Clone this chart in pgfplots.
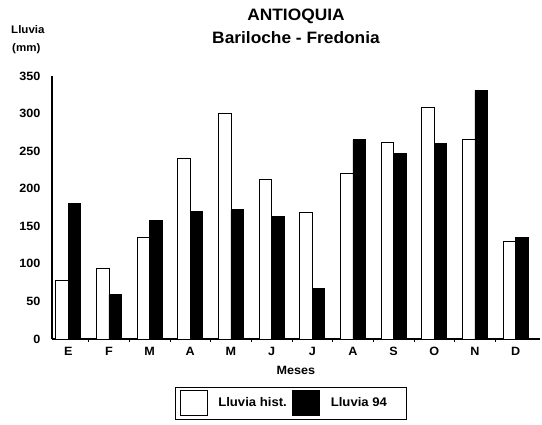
\documentclass[border=0pt]{standalone}
\usepackage{fontspec}
\setmainfont{Liberation Sans}[FakeStretch=1.05]
\usepackage{pgfplots}
\pgfplotsset{compat=1.18}
\pgfplotsset{sq legend/.style={legend image code/.code={\path[draw=none,fill=none] (0pt,-15pt) rectangle (40pt,15pt);\draw[##1] (4pt,-12.5pt) rectangle (31pt,12.5pt);}}}
\begin{document}
\begin{tikzpicture}
\useasboundingbox (-52pt,-85pt) rectangle (490pt,339pt);
\begin{axis}[
  at={(0,0)}, anchor=south west,
  scale only axis, width=488pt, height=263pt,
  xmin=-0.4, xmax=11.6, ymin=0, ymax=350,
  axis x line=bottom, axis y line=left,
  x axis line style={-, line width=2pt},
  y axis line style={-, line width=2.5pt},
  ytick={0,50,...,350},
  xtick={0,...,11},
  xticklabels={E,F,M,A,M,J,J,A,S,O,N,D},
  major tick length=0pt,
  extra x ticks={0.5,1.5,...,10.5},
  extra x tick labels={},
  extra x tick style={major tick length=3pt, tick style={black, line width=0.6pt}},
  /pgf/number format/assume math mode=true,
  tick label style={font=\bfseries\fontsize{12}{13}\selectfont},
  yticklabel style={xshift=-8pt},
  xticklabel style={yshift=-5pt},
  xlabel={Meses},
  xlabel style={font=\bfseries\fontsize{12}{13}\selectfont, yshift=0pt},
  ybar=0pt, bar width=12.5pt,
  legend columns=2,
  legend style={at={(0.489,-0.243)}, anchor=center, draw=black, line width=0.8pt,
    font=\bfseries\fontsize{12.5}{13}\selectfont, inner sep=1pt,
    /tikz/every even column/.append style={column sep=0pt}},
]
\addplot[fill=white, draw=black, line width=0.8pt, sq legend]
  coordinates {(0,78) (1,94) (2,135) (3,241) (4,300) (5,213) (6,168) (7,220) (8,261) (9,308) (10,265) (11,130)};
\addlegendentry{Lluvia hist.}
\addplot[fill=black, draw=black, line width=0.8pt, sq legend]
  coordinates {(0,180) (1,59) (2,158) (3,170) (4,172) (5,163) (6,67) (7,265) (8,247) (9,260) (10,331) (11,135)};
\addlegendentry{Lluvia 94\rule{16pt}{0pt}}
\end{axis}
\node[font=\bfseries\fontsize{16.5}{17}\selectfont] at (244pt,323pt) {ANTIOQUIA};
\node[font=\bfseries\fontsize{16.5}{17}\selectfont] at (244pt,301pt) {Bariloche - Fredonia};
\node[font=\bfseries\fontsize{11}{12}\selectfont, anchor=west, inner sep=0pt] at (-41pt,309pt) {Lluvia};
\node[font=\bfseries\fontsize{11}{12}\selectfont, anchor=west, inner sep=0pt] at (-40pt,290pt) {(mm)};
\end{tikzpicture}
\end{document}
